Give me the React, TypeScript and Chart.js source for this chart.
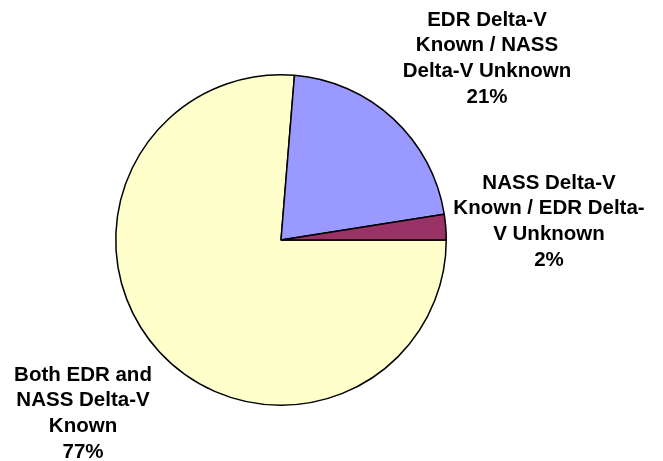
import React, { useEffect, useRef } from "react";
import { Chart, registerables } from "chart.js";

Chart.register(...registerables);

const categories = [
  "Both EDR and NASS Delta-V Known",
  "EDR Delta-V Known / NASS Delta-V Unknown",
  "NASS Delta-V Known / EDR Delta-V Unknown",
];
const values = [76.3, 21.2, 2.5];
const percentLabels = ["77%", "21%", "2%"];
const labelLines = [
  ["Both EDR and", "NASS Delta-V", "Known"],
  ["EDR Delta-V", "Known / NASS", "Delta-V Unknown"],
  ["NASS Delta-V", "Known / EDR Delta-", "V Unknown"],
];
const colors = ["#FFFFCC", "#9999FF", "#993366"];

// label anchor (center x, first-line y) — layout only
const labelAnchors = [
  { x: 83, y: 375 },
  { x: 487, y: 20 },
  { x: 549, y: 183 },
];

const labelPlugin = {
  id: "outerLabels",
  afterDraw(chart: any) {
    const ctx = chart.ctx;
    ctx.save();
    ctx.fillStyle = "#000";
    ctx.font = "bold 20.5px 'Liberation Sans', Arial, sans-serif";
    ctx.textAlign = "center";
    ctx.textBaseline = "middle";
    labelAnchors.forEach((a, i) => {
      const lines = [...labelLines[i], percentLabels[i]];
      lines.forEach((ln, j) => {
        ctx.fillText(ln, a.x, a.y + j * 25.8);
      });
    });
    ctx.restore();
  },
};

export default function App() {
  const ref = useRef<HTMLCanvasElement | null>(null);
  useEffect(() => {
    document.body.style.margin = "0";
    const chart = new Chart(ref.current as HTMLCanvasElement, {
      type: "pie",
      data: {
        labels: categories,
        datasets: [
          {
            data: values,
            backgroundColor: colors,
            borderColor: "#000000",
            borderWidth: 1.5,
          },
        ],
      },
      options: {
        responsive: false,
        animation: false,
        rotation: 90,
        layout: { padding: { top: 74, bottom: 55, left: 115, right: 216 } },
        plugins: {
          legend: { display: false },
          tooltip: { enabled: false },
        },
      },
      plugins: [labelPlugin],
    });
    return () => chart.destroy();
  }, []);
  return (
    <div style={{ position: "fixed", left: 0, top: 0, width: 663, height: 461, background: "#fff" }}>
      <canvas ref={ref} width={663} height={461} />
    </div>
  );
}
